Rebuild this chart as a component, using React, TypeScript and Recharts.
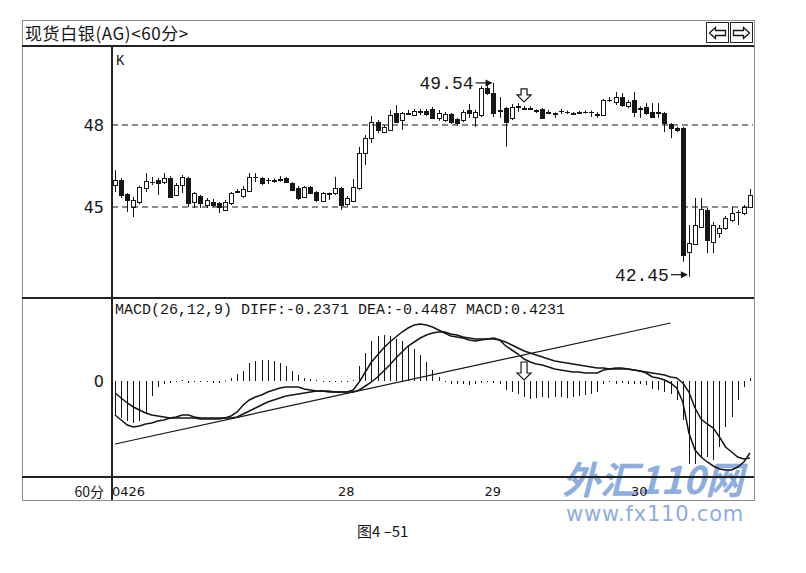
import { ComposedChart, Bar, Line, XAxis, YAxis, ReferenceLine, ReferenceDot } from 'recharts';

// 60-minute candles, 04-26 .. 04-30
const dayLabels = ['0426', '28', '29', '30'];
const dayStarts = [0, 37, 61, 85];

const opens = [
  45.80, 45.99, 45.47, 45.00, 45.18, 45.69, 45.91, 45.99, 45.91, 46.06,
  45.44, 45.80, 46.06, 45.18, 45.40, 45.07, 45.18, 45.15, 44.89, 45.15,
  45.55, 45.40, 45.58, 46.10, 46.06, 45.99, 45.95, 46.00, 46.06, 45.88,
  45.69, 45.37, 45.73, 45.55, 45.22, 45.51, 45.51, 45.69, 45.11, 45.22,
  45.69, 46.98, 47.52, 48.11, 47.74, 47.82, 48.44, 48.18, 48.42, 48.37,
  48.50, 48.50, 48.59, 48.26, 48.18, 48.40, 48.22, 48.18, 48.55, 48.29,
  48.37, 49.35, 49.17, 48.55, 48.62, 48.26, 48.66, 48.62, 48.60, 48.55,
  48.59, 48.44, 48.44, 48.51, 48.46, 48.44, 48.44, 48.46, 48.48, 48.37,
  48.37, 48.91, 48.84, 49.02, 48.70, 48.91, 48.62, 48.66, 48.48, 48.46,
  48.44, 48.04, 47.89, 47.89, 43.35, 43.65, 44.27, 44.89, 43.72, 44.05,
  44.23, 44.52, 44.80, 44.78, 45.00,
];
const highs = [
  46.35, 46.06, 45.51, 45.37, 45.78, 46.24, 46.10, 46.06, 46.24, 46.13,
  45.88, 46.17, 46.10, 45.55, 45.44, 45.33, 45.29, 45.18, 45.26, 45.55,
  45.66, 45.77, 46.24, 46.24, 46.10, 46.06, 46.04, 46.13, 46.10, 45.91,
  45.77, 45.77, 45.77, 45.58, 45.55, 45.53, 46.10, 45.73, 45.40, 46.02,
  47.20, 47.63, 48.33, 48.18, 48.00, 48.55, 48.73, 48.48, 48.55, 48.59,
  48.59, 48.59, 48.66, 48.55, 48.48, 48.44, 48.26, 48.55, 48.77, 48.55,
  49.42, 49.46, 49.54, 49.02, 48.66, 48.77, 48.80, 48.70, 48.68, 48.57,
  48.62, 48.55, 48.46, 48.59, 48.53, 48.48, 48.51, 48.53, 48.53, 48.48,
  48.95, 49.02, 49.21, 49.17, 48.91, 49.21, 48.68, 48.80, 48.80, 48.80,
  48.48, 48.07, 47.93, 47.93, 44.34, 45.33, 45.33, 44.96, 44.45, 44.34,
  44.67, 45.00, 44.89, 45.07, 45.66,
];
const lows = [
  45.55, 45.33, 44.82, 44.63, 45.10, 45.55, 45.80, 45.44, 45.84, 45.33,
  45.40, 45.51, 45.00, 44.96, 44.96, 44.96, 45.00, 44.78, 44.85, 45.07,
  45.51, 45.33, 45.55, 45.91, 45.80, 45.84, 45.88, 45.93, 45.88, 45.58,
  45.25, 45.33, 45.47, 45.18, 45.18, 45.26, 45.44, 44.89, 45.04, 45.18,
  45.62, 46.54, 47.34, 47.70, 47.70, 47.78, 48.07, 47.82, 48.37, 48.33,
  48.37, 48.33, 48.22, 48.15, 48.11, 48.04, 47.98, 48.11, 48.26, 47.93,
  48.29, 49.10, 48.29, 48.26, 47.20, 48.18, 48.48, 48.55, 48.55, 48.44,
  48.22, 48.40, 48.26, 48.40, 48.40, 48.37, 48.40, 48.42, 48.29, 48.26,
  48.33, 48.84, 48.73, 48.66, 48.62, 48.29, 48.26, 48.37, 48.26, 48.26,
  47.74, 47.52, 47.74, 42.99, 42.45, 43.61, 44.23, 43.31, 43.31, 43.87,
  44.16, 44.45, 44.34, 44.70, 44.96,
];
const closes = [
  45.99, 45.44, 45.26, 45.26, 45.73, 45.95, 45.93, 45.88, 46.06, 45.37,
  45.80, 46.10, 45.15, 45.51, 45.15, 45.26, 45.07, 45.00, 45.18, 45.51,
  45.58, 45.66, 46.10, 46.08, 45.88, 45.97, 45.99, 46.02, 45.91, 45.62,
  45.33, 45.73, 45.51, 45.26, 45.51, 45.49, 45.69, 45.07, 45.33, 45.73,
  46.98, 47.52, 48.11, 47.82, 47.93, 48.37, 48.11, 48.44, 48.44, 48.51,
  48.48, 48.40, 48.26, 48.44, 48.40, 48.11, 48.07, 48.48, 48.44, 48.48,
  49.35, 49.17, 48.44, 48.51, 48.11, 48.66, 48.68, 48.59, 48.62, 48.53,
  48.26, 48.48, 48.42, 48.53, 48.48, 48.42, 48.46, 48.48, 48.46, 48.40,
  48.91, 48.93, 49.02, 48.73, 48.84, 48.48, 48.59, 48.44, 48.29, 48.44,
  48.07, 47.89, 47.80, 43.24, 43.68, 44.34, 44.93, 43.79, 44.34, 44.23,
  44.60, 44.78, 44.82, 45.00, 45.44,
];

const diffValues = [
  -0.170, -0.195, -0.220, -0.230, -0.225, -0.215, -0.210, -0.200, -0.195, -0.185,
  -0.180, -0.170, -0.170, -0.180, -0.185, -0.185, -0.185, -0.185, -0.185, -0.175,
  -0.155, -0.120, -0.095, -0.080, -0.070, -0.055, -0.045, -0.035, -0.030, -0.030,
  -0.030, -0.040, -0.045, -0.050, -0.050, -0.055, -0.055, -0.055, -0.055, -0.045,
  -0.005, 0.045, 0.095, 0.130, 0.165, 0.195, 0.220, 0.245, 0.265, 0.280,
  0.285, 0.280, 0.270, 0.255, 0.240, 0.225, 0.220, 0.215, 0.205, 0.200,
  0.205, 0.210, 0.215, 0.205, 0.175, 0.155, 0.135, 0.110, 0.095, 0.085,
  0.080, 0.070, 0.060, 0.055, 0.050, 0.045, 0.045, 0.040, 0.040, 0.040,
  0.055, 0.060, 0.065, 0.065, 0.060, 0.055, 0.050, 0.040, 0.020, 0.015,
  0.005, -0.010, -0.035, -0.105, -0.260, -0.345, -0.380, -0.405, -0.425, -0.440,
  -0.445, -0.445, -0.430, -0.405, -0.360,
];
const deaValues = [
  -0.060, -0.085, -0.110, -0.130, -0.145, -0.160, -0.170, -0.175, -0.180, -0.185,
  -0.185, -0.185, -0.185, -0.185, -0.190, -0.190, -0.190, -0.190, -0.185, -0.185,
  -0.180, -0.165, -0.150, -0.135, -0.120, -0.105, -0.095, -0.085, -0.075, -0.070,
  -0.065, -0.060, -0.055, -0.050, -0.050, -0.050, -0.055, -0.055, -0.055, -0.055,
  -0.045, -0.025, -0.005, 0.020, 0.050, 0.080, 0.115, 0.145, 0.175, 0.195,
  0.215, 0.230, 0.240, 0.245, 0.245, 0.235, 0.230, 0.220, 0.215, 0.210,
  0.210, 0.210, 0.210, 0.205, 0.195, 0.180, 0.165, 0.150, 0.140, 0.130,
  0.120, 0.110, 0.100, 0.095, 0.090, 0.085, 0.080, 0.075, 0.070, 0.065,
  0.065, 0.060, 0.060, 0.060, 0.060, 0.055, 0.050, 0.045, 0.040, 0.035,
  0.030, 0.020, 0.015, -0.010, -0.055, -0.135, -0.190, -0.215, -0.235, -0.280,
  -0.330, -0.355, -0.380, -0.390, -0.385,
];
const macdBars = [
  -0.175, -0.185, -0.200, -0.210, -0.200, -0.160, -0.075, -0.030, -0.015, -0.010,
  -0.005, 0.005, -0.010, -0.005, -0.005, -0.005, -0.010, -0.010, 0.002, 0.015,
  0.035, 0.050, 0.090, 0.100, 0.105, 0.105, 0.100, 0.090, 0.075, 0.050,
  0.030, 0.015, 0.010, 0.005, -0.005, -0.005, -0.005, -0.005, -0.005, 0.005,
  0.075, 0.140, 0.200, 0.225, 0.230, 0.225, 0.210, 0.200, 0.180, 0.160,
  0.130, 0.095, 0.055, 0.020, -0.005, -0.015, -0.015, -0.015, -0.020, -0.015,
  -0.010, -0.005, -0.010, -0.015, -0.045, -0.055, -0.065, -0.080, -0.090, -0.085,
  -0.080, -0.085, -0.080, -0.080, -0.085, -0.080, -0.075, -0.070, -0.065, -0.055,
  -0.015, -0.005, -0.015, -0.010, -0.015, -0.015, -0.015, -0.020, -0.040, -0.045,
  -0.055, -0.065, -0.095, -0.195, -0.415, -0.415, -0.380, -0.380, -0.395, -0.330,
  -0.230, -0.180, -0.095, -0.030, 0.015,
];

// hand-drawn trend line on the MACD pane
const trendStart = { i: 0, v: -0.315 };
const trendEnd = { i: 91, v: 0.29 };

const priceTicks = [45, 48];
const highMark = { i: 62, v: 49.54 };
const lowMark = { i: 94, v: 42.45 };
const arrowAt = 67;

const INK = '#161616';
const MONO = "'Liberation Mono', monospace";
const SANS = "'DejaVu Sans', sans-serif";
const CJK = "'Noto Sans CJK SC', sans-serif";

const candles = opens.map((o, i) => ({
  i,
  o,
  h: highs[i],
  l: lows[i],
  c: closes[i],
  range: [lows[i], highs[i]],
}));

const macdRows = diffValues.map((d, i) => ({
  i,
  diff: d,
  dea: deaValues[i],
  hist: macdBars[i],
  trend: i === trendStart.i ? trendStart.v : i === trendEnd.i ? trendEnd.v : undefined,
}));

function Candle(props: any) {
  const { x, y, width, height, payload } = props;
  const { o, h, l, c } = payload;
  const top = Math.min(y, y + height);
  const hpx = Math.abs(height);
  const k = hpx / (h - l || 1);
  const py = (v: number) => top + (h - v) * k;
  const cx = Math.floor(x + width / 2) + 0.5;
  const bTop = Math.round(py(Math.max(o, c))) + 0.5;
  const bBot = Math.round(py(Math.min(o, c))) + 0.5;
  const up = c >= o;
  return (
    <g>
      <line x1={cx} x2={cx} y1={top} y2={top + hpx} stroke={INK} strokeWidth={1} />
      {bBot - bTop < 1 ? (
        <line x1={cx - 2.5} x2={cx + 2.5} y1={bTop} y2={bTop} stroke={INK} strokeWidth={1} />
      ) : (
        <rect
          x={cx - 2}
          y={bTop}
          width={4}
          height={bBot - bTop}
          fill={up ? '#fff' : INK}
          stroke={INK}
          strokeWidth={1}
        />
      )}
    </g>
  );
}

function HistLine(props: any) {
  const { x, y, width, height } = props;
  if (height == null) return <g />;
  const cx = Math.floor(x + width / 2) + 0.5;
  const y1 = Math.min(y, y + height);
  const y2 = Math.max(y, y + height);
  return <line x1={cx} x2={cx} y1={y1} y2={Math.max(y2, y1 + 1)} stroke={INK} strokeWidth={1} />;
}

function PriceTag(props: any) {
  const { cx, cy, text } = props;
  return (
    <g>
      <text x={cx - 20} y={cy + 6} textAnchor="end" fontFamily={MONO} fontSize={18} fill={INK}>
        {text}
      </text>
      <line x1={cx - 18} x2={cx - 3} y1={cy} y2={cy} stroke={INK} strokeWidth={1.2} />
      <path d={`M${cx - 1},${cy} l-7,-3.5 l0,7 z`} fill={INK} />
    </g>
  );
}

function HollowDown(props: any) {
  const { cx, cy, shaft } = props;
  const d = `M${cx - 3},${cy} h6 v${shaft} h4 l-7,7 l-7,-7 h4 z`;
  return <path d={d} fill="#fff" stroke={INK} strokeWidth={1.2} />;
}

function DayTick(props: any) {
  const { x, y, payload } = props;
  const k = dayStarts.indexOf(payload.value);
  if (k < 0) return <g />;
  return (
    <text x={x - 3} y={y + 10} textAnchor="start" fontFamily={SANS} fontSize={13} fill={INK}>
      {dayLabels[k]}
    </text>
  );
}

function NavArrow({ dir }: { dir: 'left' | 'right' }) {
  const d =
    dir === 'left'
      ? 'M1.5,7 L7.5,1.5 L7.5,4.5 L17.5,4.5 L17.5,9.5 L7.5,9.5 L7.5,12.5 Z'
      : 'M17.5,7 L11.5,1.5 L11.5,4.5 L1.5,4.5 L1.5,9.5 L11.5,9.5 L11.5,12.5 Z';
  return (
    <svg width={19} height={14} style={{ display: 'block', margin: '3px auto 0' }}>
      <path d={d} fill="none" stroke={INK} strokeWidth={1.3} />
    </svg>
  );
}

const abs = (left: number, top: number, extra: any = {}) => ({
  position: 'absolute' as const,
  left,
  top,
  ...extra,
});

export default function App() {
  return (
    <div style={abs(0, 0, { width: 806, height: 573, background: '#fff', overflow: 'hidden' })}>
      {/* watermark sits under the chart */}
      <div
        style={abs(562, 455, {
          fontFamily: CJK,
          fontSize: 38,
          fontWeight: 'bold',
          fontStyle: 'italic',
          color: '#7b9fdb',
          opacity: 0.85,
          lineHeight: '46px',
        })}
      >
        外汇110网
      </div>
      <div style={abs(566, 502, { fontFamily: SANS, fontSize: 21, color: '#7b9fdb', opacity: 0.85, letterSpacing: 0.8 })}>
        www.fx110.com
      </div>

      {/* candles */}
      <div style={abs(22, 46)}>
        <ComposedChart width={731} height={252} data={candles} margin={{ top: 0, right: 0, bottom: 0, left: 0 }}>
          <XAxis dataKey="i" type="category" hide />
          <YAxis
            domain={[41.67, 50.89]}
            ticks={priceTicks}
            width={90}
            axisLine={false}
            tickLine={false}
            allowDataOverflow
            tick={{ fontFamily: SANS, fontSize: 16, fill: INK }}
          />
          {priceTicks.map((t) => (
            <ReferenceLine key={t} y={t} stroke={INK} strokeWidth={1} strokeDasharray="6 4" />
          ))}
          <Bar dataKey="range" barSize={5} shape={<Candle />} isAnimationActive={false} />
          <ReferenceDot
            x={highMark.i}
            y={highMark.v}
            r={0}
            shape={(p: any) => <PriceTag cx={p.cx} cy={p.cy} text={highMark.v.toFixed(2)} />}
          />
          <ReferenceDot
            x={lowMark.i}
            y={lowMark.v}
            r={0}
            shape={(p: any) => <PriceTag cx={p.cx} cy={p.cy - 2} text={lowMark.v.toFixed(2)} />}
          />
          <ReferenceDot x={arrowAt} y={49.32} r={0} shape={(p: any) => <HollowDown cx={p.cx} cy={p.cy} shaft={6} />} />
        </ComposedChart>
      </div>

      {/* MACD */}
      <div style={abs(22, 298)}>
        <ComposedChart width={731} height={202} data={macdRows} margin={{ top: 0, right: 0, bottom: 0, left: 0 }}>
          <XAxis
            dataKey="i"
            type="category"
            height={22}
            interval={0}
            axisLine={false}
            tickLine={false}
            tick={<DayTick />}
          />
          <YAxis
            domain={[-0.485, 0.415]}
            ticks={[0]}
            width={90}
            axisLine={false}
            tickLine={false}
            allowDataOverflow
            tick={{ fontFamily: SANS, fontSize: 16, fill: INK }}
          />
          <Bar dataKey="hist" barSize={1} shape={<HistLine />} isAnimationActive={false} />
          <Line dataKey="trend" type="linear" stroke={INK} strokeWidth={1.2} dot={false} activeDot={false} connectNulls isAnimationActive={false} />
          <Line dataKey="dea" type="linear" stroke={INK} strokeWidth={1.5} dot={false} activeDot={false} isAnimationActive={false} />
          <Line dataKey="diff" type="linear" stroke={INK} strokeWidth={1.5} dot={false} activeDot={false} isAnimationActive={false} />
          <ReferenceDot x={arrowAt} y={0.095} r={0} shape={(p: any) => <HollowDown cx={p.cx} cy={p.cy} shaft={11} />} />
        </ComposedChart>
      </div>

      {/* frame */}
      <div style={abs(22, 20, { width: 731, height: 479, border: '1px solid #8c8c8c' })} />
      <div style={abs(22, 45, { width: 732, height: 2, background: '#222' })} />
      <div style={abs(22, 297, { width: 732, height: 2, background: '#222' })} />
      <div style={abs(22, 476, { width: 732, height: 2, background: '#222' })} />
      <div style={abs(111, 46, { width: 2, height: 454, background: '#222' })} />

      {/* title bar */}
      <div style={abs(25, 23, { fontFamily: CJK, fontSize: 17, lineHeight: '20px', color: INK, letterSpacing: 0.6 })}>
        现货白银(AG)&lt;60分&gt;
      </div>
      <div style={abs(706, 22, { width: 21, height: 19, border: '1.5px solid #222' })}>
        <NavArrow dir="left" />
      </div>
      <div style={abs(730, 22, { width: 21, height: 19, border: '1.5px solid #222' })}>
        <NavArrow dir="right" />
      </div>

      <div style={abs(116, 53, { fontFamily: MONO, fontSize: 14, color: INK })}>K</div>
      <div style={abs(115, 302, { fontFamily: MONO, fontSize: 15, color: INK, whiteSpace: 'pre' })}>
        MACD(26,12,9) DIFF:-0.2371 DEA:-0.4487 MACD:0.4231
      </div>
      <div style={abs(22, 481, { width: 82, textAlign: 'right', fontFamily: CJK, fontSize: 14, color: INK })}>
        60分
      </div>

      <div style={abs(357, 520, { fontFamily: CJK, fontSize: 15, color: INK, whiteSpace: 'pre' })}>图4 –51</div>
    </div>
  );
}
